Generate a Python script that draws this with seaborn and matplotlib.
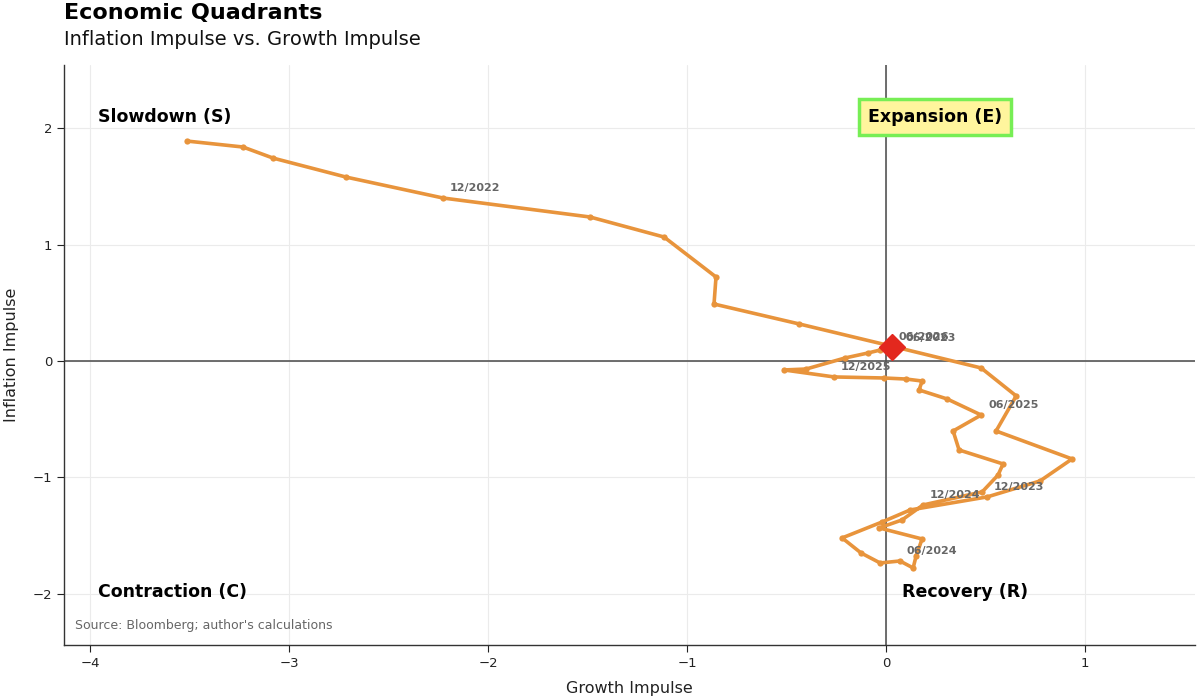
import pandas as pd
import matplotlib.pyplot as plt
import seaborn as sns
import numpy as np

# Datos mensuales: impulso de crecimiento (x) e impulso de inflación (y)
months = pd.date_range('2022-08-01', '2026-06-01', freq='MS').strftime('%m/%Y').tolist()

growth = [-3.514, -3.233, -3.082, -2.715, -2.227,
          -1.488, -1.116, -0.855, -0.865, -0.437, 0.065, 0.478, 0.654, 0.553, 0.935, 0.774, 0.508,
          0.121, -0.020, -0.221, -0.126, -0.030, 0.070, 0.136, 0.151, 0.181, -0.035, 0.080, 0.186,
          0.483, 0.563, 0.588, 0.367, 0.337, 0.478, 0.307, 0.166, 0.181, 0.101, -0.010, -0.261,
          -0.513, -0.402, -0.206, -0.090, -0.030, 0.030]

inflation = [1.888, 1.837, 1.742, 1.579, 1.399,
             1.236, 1.064, 0.721, 0.489, 0.318, 0.112, -0.060, -0.300, -0.601, -0.841, -1.030, -1.167,
             -1.279, -1.382, -1.519, -1.648, -1.734, -1.717, -1.777, -1.674, -1.528, -1.433, -1.365, -1.236,
             -1.124, -0.979, -0.884, -0.764, -0.601, -0.464, -0.326, -0.249, -0.172, -0.155, -0.146, -0.137,
             -0.077, -0.069, 0.026, 0.069, 0.094, 0.120]

df = pd.DataFrame({'month': months, 'growth': growth, 'inflation': inflation})

sns.set_style('ticks')
plt.rcParams['font.family'] = ['DejaVu Sans']
plt.rcParams['text.color'] = 'black'

fig = plt.figure(figsize=(12, 6.99), dpi=100)
ax = fig.add_axes([0.0533, 0.0773, 0.9427, 0.8297])

# Rejilla y ejes cero
ax.grid(True, color='#ebebeb', linewidth=0.8, zorder=0)
ax.axhline(0, color='#555555', linewidth=1.2, zorder=1)
ax.axvline(0, color='#555555', linewidth=1.2, zorder=1)

# Trayectoria
sns.lineplot(data=df, x='growth', y='inflation', sort=False, estimator=None,
             color='#e8943c', linewidth=2.6, marker='o', markersize=4.5,
             markeredgewidth=0, ax=ax, zorder=3)

# Último punto
last = df.iloc[-1]
ax.plot(last['growth'], last['inflation'], marker='D', markersize=13,
        color='#e3281e', linestyle='none', zorder=5)

# Etiquetas de fechas (junio y diciembre)
for _, row in df.iterrows():
    if row['month'][:2] in ('06', '12'):
        ax.annotate(row['month'], (row['growth'], row['inflation']),
                    xytext=(5, 5), textcoords='offset points',
                    fontsize=8, fontweight='bold', color='#666666', zorder=6)

# Cuadrantes
quad_kw = dict(fontsize=12.5, fontweight='bold', color='black', va='center', zorder=6)
ax.text(-3.962, 2.094, 'Slowdown (S)', ha='left', **quad_kw)
ax.text(-3.962, -1.983, 'Contraction (C)', ha='left', **quad_kw)
ax.text(0.080, -1.983, 'Recovery (R)', ha='left', **quad_kw)
ax.text(0.246, 2.094, 'Expansion (E)', ha='center',
        bbox=dict(boxstyle='square,pad=0.5', facecolor='#fff59d',
                  edgecolor='#77ee55', linewidth=2.5), **quad_kw)

ax.text(-4.077, -2.275, "Source: Bloomberg; author's calculations",
        fontsize=9, color='#666666', va='center', ha='left')

ax.set_xlim(-4.133, 1.554)
ax.set_ylim(-2.438, 2.541)
ax.set_xticks([-4, -3, -2, -1, 0, 1])
ax.set_yticks([-2, -1, 0, 1, 2])
ax.tick_params(labelsize=9.5, length=5, colors='#222222')
ax.set_xlabel('Growth Impulse', fontsize=11.5, labelpad=8, color='#222222')
ax.set_ylabel('Inflation Impulse', fontsize=11.5, labelpad=10, color='#222222')
sns.despine(ax=ax)
for s in ('left', 'bottom'):
    ax.spines[s].set_color('#333333')
    ax.spines[s].set_linewidth(1.0)

fig.text(0.0533, 0.995, 'Economic Quadrants', fontsize=16, fontweight='bold',
         va='top', ha='left', color='black')
fig.text(0.0533, 0.957, 'Inflation Impulse vs. Growth Impulse', fontsize=14,
         va='top', ha='left', color='#111111')

fig.savefig('out.png', dpi=100)
